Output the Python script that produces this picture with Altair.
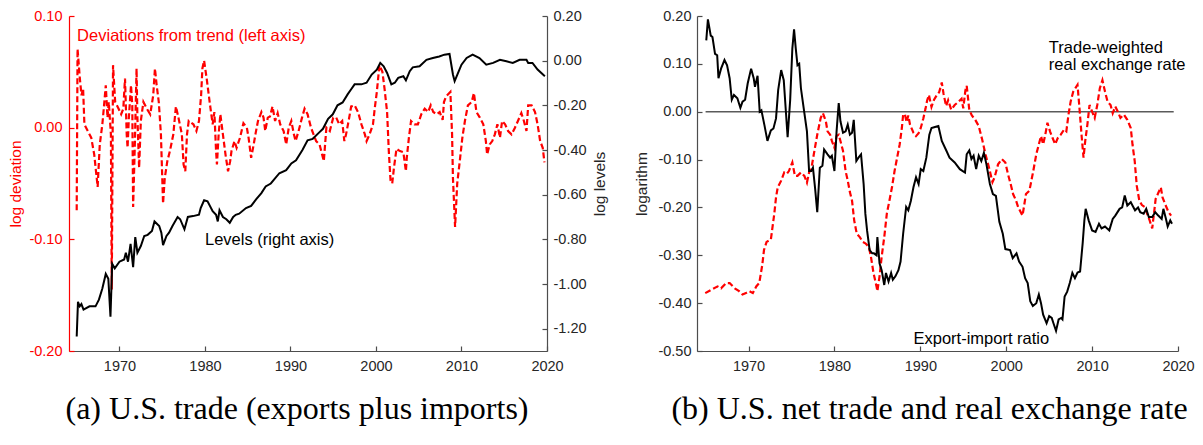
import altair as alt
import pandas as pd

# ---------------- Panel (a): U.S. trade ----------------
LEV_YEARS = [1965.0, 1965.15, 1965.35, 1965.55, 1965.8, 1966.5, 1967.2, 1967.6, 1968.0, 1968.4,
             1968.7, 1968.95, 1969.15, 1969.45, 1970.0, 1970.55, 1970.75, 1971.0, 1971.3, 1971.6,
             1971.85, 1972.1, 1972.5, 1972.9, 1973.3, 1973.8, 1974.1, 1974.65, 1974.9, 1975.1,
             1975.5, 1975.8, 1976.2, 1976.8, 1977.1, 1977.6, 1978.0, 1978.6, 1979.3, 1979.5,
             1979.9, 1980.3, 1980.9, 1981.3, 1981.5, 1981.7, 1982.1, 1982.5, 1982.9, 1983.3,
             1983.6, 1984.0, 1984.8, 1985.4, 1986.0, 1986.6, 1987.1, 1987.7, 1988.7, 1989.5,
             1990.1, 1990.65, 1991.4, 1992.0, 1992.6, 1993.4, 1993.8, 1994.4, 1994.95, 1995.5,
             1996.1, 1996.7, 1997.1, 1997.5, 1998.3, 1998.9, 1999.5, 2000.1, 2000.5, 2000.9,
             2001.3, 2001.8, 2002.2, 2002.6, 2003.2, 2003.5, 2003.95, 2004.3, 2005.1, 2005.9,
             2006.65, 2007.4, 2008.0, 2008.6, 2009.0, 2009.2, 2009.6, 2010.0, 2010.6, 2011.3,
             2012.1, 2012.9, 2013.7, 2014.5, 2015.25, 2016.0, 2016.8, 2017.6, 2017.8, 2018.3,
             2018.9, 2019.75]
LEV_VALUES = [-1.235, -1.08, -1.10, -1.09, -1.115, -1.10, -1.10, -1.07, -1.02, -0.955,
              -0.977, -1.146, -0.91, -0.93, -0.90, -0.89, -0.86, -0.90, -0.82, -0.925,
              -0.79, -0.86, -0.83, -0.785, -0.78, -0.763, -0.72, -0.74, -0.77, -0.826,
              -0.785, -0.77, -0.74, -0.70, -0.71, -0.755, -0.70, -0.696, -0.69, -0.66,
              -0.625, -0.63, -0.674, -0.69, -0.72, -0.67, -0.70, -0.71, -0.726, -0.70,
              -0.69, -0.685, -0.66, -0.65, -0.62, -0.593, -0.563, -0.55, -0.504, -0.49,
              -0.46, -0.446, -0.40, -0.357, -0.35, -0.32, -0.305, -0.26, -0.24, -0.20,
              -0.187, -0.15, -0.128, -0.106, -0.106, -0.099, -0.062, -0.04, -0.01, -0.025,
              -0.055, -0.106, -0.099, -0.077, -0.07, -0.088, -0.047, -0.03, -0.025, 0.004,
              0.012, 0.019, 0.027, 0.03, -0.062, -0.092, -0.055, -0.018, 0.012, 0.027,
              0.012, -0.018, -0.01, 0.004, -0.003, -0.01, 0.004, 0.004, -0.01, -0.01,
              -0.04, -0.07]

DEV_YEARS = [1965.0, 1965.1, 1965.37, 1965.56, 1965.75, 1965.9, 1966.3, 1966.7, 1967.05, 1967.45,
             1967.7, 1968.0, 1968.2, 1968.4, 1968.6, 1968.75, 1969.0, 1969.1, 1969.25, 1969.5,
             1969.9, 1970.2, 1970.45, 1970.65, 1970.85, 1970.95, 1971.1, 1971.35, 1971.5, 1971.6,
             1971.8, 1972.0, 1972.1, 1972.3, 1972.5, 1972.8, 1973.2, 1973.6, 1973.95, 1974.15,
             1974.35, 1974.6, 1974.85, 1975.1, 1975.3, 1975.6, 1975.9, 1976.3, 1976.6, 1976.9,
             1977.3, 1977.5, 1977.7, 1977.9, 1978.1, 1978.65, 1979.0, 1979.3, 1979.55, 1979.7,
             1979.9, 1980.2, 1980.6, 1980.9, 1981.1, 1981.3, 1981.4, 1981.6, 1981.8, 1982.0,
             1982.2, 1982.4, 1982.7, 1982.95, 1983.1, 1983.45, 1983.7, 1984.1, 1984.5, 1984.9,
             1985.1, 1985.4, 1985.7, 1985.9, 1986.2, 1986.6, 1986.85, 1987.05, 1987.35, 1987.6,
             1987.9, 1988.2, 1988.5, 1988.8, 1989.2, 1989.5, 1989.8, 1990.1, 1990.4, 1990.6,
             1990.95, 1991.35, 1991.65, 1992.0, 1992.4, 1993.0, 1993.4, 1993.9, 1994.2, 1994.6,
             1995.0, 1995.35, 1995.7, 1996.05, 1996.3, 1996.5, 1996.8, 1997.1, 1997.5, 1997.9,
             1998.3, 1998.7, 1998.9, 1999.25, 1999.65, 1999.85, 2000.1, 2000.4, 2000.75, 2001.0,
             2001.3, 2001.5, 2001.7, 2001.9, 2002.1, 2002.4, 2002.8, 2003.2, 2003.5, 2003.6,
             2003.85, 2004.1, 2004.5, 2004.9, 2005.3, 2005.7, 2006.1, 2006.4, 2006.7, 2007.1,
             2007.45, 2007.8, 2007.95, 2008.2, 2008.7, 2008.9, 2009.0, 2009.15, 2009.25, 2009.5,
             2009.8, 2010.1, 2010.4, 2010.75, 2011.2, 2011.45, 2011.75, 2012.15, 2012.55, 2012.85,
             2013.0, 2013.3, 2013.6, 2013.9, 2014.2, 2014.5, 2014.75, 2015.1, 2015.45, 2015.85,
             2016.25, 2016.6, 2017.0, 2017.3, 2017.6, 2017.8, 2018.2, 2018.6, 2018.9, 2019.2,
             2019.5, 2019.7]
DEV_VALUES = [-0.074, 0.0705, 0.044, 0.029, 0.035, 0.003, -0.003, -0.009, -0.024, -0.053,
              -0.015, 0.003, 0.02, 0.038, 0.009, 0.023, -0.006, -0.145, 0.056, 0.023,
              0.017, 0.012, 0.017, 0.044, -0.006, -0.018, 0.009, 0.038, 0.02, -0.071,
              -0.015, 0.053, 0.009, -0.036, 0.006, 0.023, 0.017, 0.012, 0.029, 0.053,
              0.038, 0.023, -0.006, -0.068, -0.045, -0.03, -0.021, -0.006, 0.019, 0.009,
              -0.006, -0.033, -0.039, -0.006, 0.006, 0.003, -0.003, 0.006, 0.029, 0.053,
              0.06, 0.044, 0.02, 0.003, 0.014, -0.021, -0.033, -0.006, 0.012, 0.0,
              -0.012, -0.024, -0.039, -0.03, -0.021, -0.012, -0.018, -0.009, 0.004, 0.0,
              -0.009, -0.027, -0.015, -0.006, 0.006, 0.014, 0.009, -0.003, 0.009, 0.01,
              0.019, 0.006, 0.013, 0.003, -0.003, -0.015, 0.0, 0.006, -0.006, -0.012,
              -0.003, 0.009, 0.017, 0.012, 0.0, -0.012, -0.015, -0.03, 0.0, -0.003,
              0.009, 0.009, 0.003, 0.006, -0.012, -0.006, 0.006, 0.019, 0.02, 0.014,
              0.003, -0.006, -0.012, -0.006, 0.003, 0.017, 0.032, 0.056, 0.05, 0.035,
              0.014, -0.021, -0.047, -0.05, -0.036, -0.019, -0.021, -0.022, -0.039, -0.027,
              -0.009, 0.006, 0.003, 0.003, 0.012, 0.017, 0.014, 0.02, 0.014, 0.012,
              0.014, 0.007, 0.023, 0.028, 0.032, -0.006, -0.045, -0.071, -0.089, -0.05,
              -0.03, -0.009, 0.006, 0.02, 0.023, 0.031, 0.014, 0.009, 0.003, -0.012,
              -0.024, -0.015, -0.012, -0.006, 0.003, -0.009, 0.006, 0.003, -0.003, -0.006,
              0.0, 0.006, 0.013, 0.006, -0.003, 0.02, 0.02, 0.014, 0.003, -0.012,
              -0.018, -0.031]

# ---------------- Panel (b): net trade and real exchange rate ----------------
RATIO_YEARS = [1965.08, 1965.27, 1965.6, 1965.8, 1966.1, 1966.35, 1966.5, 1966.8, 1967.2, 1967.5,
               1967.8, 1968.05, 1968.3, 1968.7, 1969.05, 1969.3, 1969.6, 1969.9, 1970.3, 1970.6,
               1970.75, 1971.05, 1971.3, 1971.5, 1971.85, 1972.2, 1972.6, 1972.9, 1973.2, 1973.45,
               1973.8, 1974.1, 1974.35, 1974.55, 1974.85, 1975.1, 1975.3, 1975.5, 1975.7, 1975.9,
               1976.1, 1976.4, 1976.8, 1977.05, 1977.3, 1977.5, 1977.75, 1978.0, 1978.3, 1978.6,
               1978.8, 1979.2, 1979.5, 1979.7, 1980.0, 1980.25, 1980.5, 1980.7, 1981.0, 1981.3,
               1981.55, 1981.8, 1982.05, 1982.25, 1982.55, 1982.8, 1983.1, 1983.4, 1983.6, 1983.8,
               1984.1, 1984.4, 1984.6, 1984.9, 1985.0, 1985.25, 1985.5, 1985.8, 1986.0, 1986.3,
               1986.6, 1986.8, 1987.1, 1987.45, 1987.7, 1988.0, 1988.35, 1988.6, 1988.9, 1989.2,
               1989.5, 1989.8, 1990.05, 1990.35, 1990.7, 1991.05, 1991.3, 1991.7, 1992.1, 1992.5,
               1993.05, 1993.4, 1994.0, 1994.6, 1995.2, 1995.4, 1995.7, 1995.95, 1996.2, 1996.5,
               1996.8, 1997.1, 1997.4, 1997.7, 1998.1, 1998.45, 1998.8, 1999.2, 1999.6, 1999.9,
               2000.45, 2000.76, 2001.2, 2001.5, 2001.9, 2002.2, 2002.5, 2002.8, 2003.1, 2003.5,
               2003.8, 2004.05, 2004.3, 2004.7, 2005.0, 2005.3, 2005.5, 2005.8, 2006.1, 2006.4,
               2006.55, 2006.8, 2007.1, 2007.4, 2007.7, 2008.0, 2008.3, 2008.6, 2008.9, 2009.1,
               2009.25, 2009.6, 2010.0, 2010.4, 2010.8, 2011.1, 2011.5, 2012.0, 2012.4, 2012.7,
               2013.2, 2013.5, 2013.8, 2014.1, 2014.5, 2014.7, 2015.0, 2015.35, 2015.6, 2016.0,
               2016.3, 2016.6, 2017.0, 2017.35, 2017.7, 2018.1, 2018.3, 2018.6, 2018.8, 2019.1,
               2019.3]
RATIO_VALUES = [0.149, 0.193, 0.159, 0.156, 0.121, 0.118, 0.07, 0.09, 0.108, 0.097,
                0.07, 0.025, 0.035, 0.028, 0.008, 0.021, 0.025, 0.059, 0.09, 0.07,
                0.052, 0.075, 0.0, 0.003, -0.028, -0.061, -0.039, -0.035, -0.014, 0.045,
                0.087, 0.066, 0.0, -0.053, 0.025, 0.132, 0.172, 0.132, 0.097, 0.1,
                0.049, 0.01, -0.041, -0.124, -0.124, -0.117, -0.16, -0.21, -0.117, -0.113,
                -0.079, -0.089, -0.096, -0.092, -0.124, -0.041, 0.018, -0.02, -0.044, -0.041,
                -0.027, -0.048, -0.044, -0.017, -0.103, -0.096, -0.089, -0.151, -0.213, -0.248,
                -0.289, -0.296, -0.296, -0.30, -0.262, -0.317, -0.331, -0.362, -0.337, -0.355,
                -0.337, -0.351, -0.344, -0.331, -0.313, -0.255, -0.199, -0.206, -0.186, -0.158,
                -0.137, -0.151, -0.12, -0.124, -0.096, -0.048, -0.034, -0.032, -0.03, -0.061,
                -0.082, -0.096, -0.106, -0.12, -0.127, -0.089, -0.081, -0.099, -0.092, -0.12,
                -0.092, -0.103, -0.086, -0.11, -0.151, -0.172, -0.176, -0.23, -0.255, -0.287,
                -0.289, -0.306, -0.296, -0.313, -0.324, -0.348, -0.358, -0.396, -0.406, -0.40,
                -0.382, -0.40, -0.424, -0.442, -0.427, -0.431, -0.442, -0.458, -0.434, -0.431,
                -0.434, -0.386, -0.376, -0.358, -0.337, -0.348, -0.336, -0.334, -0.275, -0.227,
                -0.203, -0.227, -0.248, -0.251, -0.234, -0.244, -0.24, -0.248, -0.224, -0.217,
                -0.203, -0.20, -0.175, -0.196, -0.189, -0.196, -0.206, -0.20, -0.21, -0.213,
                -0.203, -0.22, -0.22, -0.21, -0.217, -0.224, -0.203, -0.224, -0.24, -0.227,
                -0.234]

RER_YEARS = [1964.96, 1965.66, 1966.4, 1966.8, 1967.4, 1967.8, 1968.4, 1968.9, 1969.3, 1969.7,
             1970.1, 1970.5, 1970.9, 1971.25, 1971.6, 1971.8, 1972.1, 1972.6, 1973.0, 1973.2,
             1973.4, 1973.8, 1974.15, 1974.45, 1974.7, 1975.1, 1975.4, 1975.7, 1976.1, 1976.5,
             1976.8, 1977.05, 1977.3, 1977.6, 1978.0, 1978.4, 1978.66, 1979.0, 1979.2, 1979.5,
             1979.7, 1980.0, 1980.25, 1980.5, 1980.8, 1981.0, 1981.3, 1981.55, 1981.8, 1982.05,
             1982.3, 1982.6, 1982.95, 1983.3, 1983.6, 1984.0, 1984.25, 1984.55, 1984.9, 1985.0,
             1985.25, 1985.5, 1985.8, 1986.1, 1986.4, 1986.7, 1987.0, 1987.3, 1987.6, 1987.85,
             1988.0, 1988.2, 1988.4, 1988.6, 1988.8, 1989.2, 1989.5, 1989.8, 1990.05, 1990.35,
             1990.6, 1990.8, 1991.0, 1991.3, 1991.6, 1991.9, 1992.2, 1992.5, 1992.7, 1993.0,
             1993.24, 1993.6, 1994.0, 1994.4, 1994.8, 1995.0, 1995.25, 1995.4, 1995.7, 1996.0,
             1996.4, 1996.8, 1997.2, 1997.6, 1998.0, 1998.4, 1998.65, 1999.05, 1999.5, 1999.9,
             2000.2, 2000.5, 2000.8, 2001.15, 2001.4, 2001.9, 2002.3, 2002.7, 2003.15, 2003.5,
             2003.8, 2004.05, 2004.3, 2004.55, 2004.8, 2005.1, 2005.4, 2005.7, 2006.0, 2006.35,
             2006.75, 2007.0, 2007.25, 2007.5, 2007.8, 2008.3, 2008.5, 2008.8, 2009.0, 2009.2,
             2009.45, 2009.7, 2010.0, 2010.3, 2010.6, 2010.9, 2011.2, 2011.5, 2011.8, 2012.15,
             2012.4, 2012.7, 2013.0, 2013.3, 2013.7, 2014.1, 2014.5, 2014.7, 2014.96, 2015.2,
             2015.5, 2015.8, 2016.2, 2016.4, 2016.7, 2017.0, 2017.2, 2017.4, 2017.7, 2018.0,
             2018.2, 2018.5, 2018.9, 2019.2]
RER_VALUES = [-0.379, -0.372, -0.365, -0.369, -0.358, -0.358, -0.369, -0.375, -0.382, -0.379,
              -0.375, -0.379, -0.365, -0.358, -0.32, -0.289, -0.272, -0.267, -0.213, -0.179,
              -0.158, -0.144, -0.127, -0.13, -0.124, -0.106, -0.134, -0.134, -0.127, -0.134,
              -0.148, -0.127, -0.12, -0.089, -0.048, -0.013, -0.003, -0.02, -0.041, -0.048,
              -0.061, -0.075, -0.051, -0.048, -0.068, -0.082, -0.124, -0.144, -0.168, -0.186,
              -0.227, -0.255, -0.262, -0.272, -0.275, -0.282, -0.303, -0.337, -0.365, -0.375,
              -0.344, -0.303, -0.262, -0.213, -0.186, -0.158, -0.124, -0.096, -0.068, -0.034,
              -0.006, -0.005, -0.022, -0.008, -0.027, -0.044, -0.051, -0.045, -0.034, -0.014,
              0.006, 0.024, 0.035, 0.01, 0.025, 0.034, 0.041, 0.061, 0.038, 0.012,
              0.024, 0.004, 0.014, 0.02, 0.027, 0.007, 0.045, 0.054, 0.004, -0.008,
              -0.017, -0.03, -0.058, -0.09, -0.117, -0.147, -0.137, -0.11, -0.099, -0.106,
              -0.13, -0.15, -0.172, -0.186, -0.20, -0.217, -0.172, -0.165, -0.124, -0.089,
              -0.068, -0.051, -0.068, -0.048, -0.023, -0.041, -0.055, -0.068, -0.055, -0.048,
              -0.037, -0.041, -0.006, 0.021, 0.042, 0.056, 0.014, -0.055, -0.096, -0.061,
              -0.027, 0.014, 0.0, -0.013, 0.014, 0.049, 0.066, 0.042, 0.021, 0.014,
              -0.003, 0.011, 0.0, -0.013, -0.006, -0.017, -0.034, -0.068, -0.103, -0.155,
              -0.186, -0.195, -0.20, -0.213, -0.227, -0.244, -0.213, -0.182, -0.17, -0.158,
              -0.179, -0.193, -0.21, -0.217]

ZERO_SPAN = [1965.0, 2019.5]

# Tick values and annotation texts (positions in data units)
X_TICKS = [1970, 1980, 1990, 2000, 2010, 2020]
DEV_TICKS = [-0.2, -0.1, 0.0, 0.1]
LEV_TICKS = [-1.2, -1.0, -0.8, -0.6, -0.4, -0.2, 0.0, 0.2]
B_TICKS = [-0.5, -0.4, -0.3, -0.2, -0.1, 0.0, 0.1, 0.2]

ANN_A_RED = {"text": ["Deviations from trend (left axis)"], "year": [1965.05], "value": [0.082]}
ANN_A_BLACK = {"text": ["Levels (right axis)"], "year": [1980.0], "value": [-0.805]}
ANN_B = {"text": ["Trade-weighted", "real exchange rate", "Export-import ratio"],
         "year": [2004.96, 2004.96, 1989.2], "value": [0.1325, 0.097, -0.474]}

CAPTION_A = "(a) U.S. trade (exports plus imports)"
CAPTION_B = "(b) U.S. net trade and real exchange rate"

# ---------------- styling ----------------
RED = "#ff0000"
DARK = "#262626"
AXIS_GRAY = "#4d4d4d"
FONT = "Liberation Sans"
SERIF = "Liberation Serif"
LABEL_FS = 14.5
TITLE_FS = 15.5
ANN_FS = 16.5
WA, HA = 478, 335
WB, HB = 481, 335
DASH = [6, 3]
LBL_EXPR = "replace(format(datum.value, '.2f'), '\u2212', '-')"

dev_df = pd.DataFrame({"year": DEV_YEARS, "value": DEV_VALUES})
lev_df = pd.DataFrame({"year": LEV_YEARS, "value": LEV_VALUES})
ratio_df = pd.DataFrame({"year": RATIO_YEARS, "value": RATIO_VALUES})
rer_df = pd.DataFrame({"year": RER_YEARS, "value": RER_VALUES})
zero_df = pd.DataFrame({"x": [ZERO_SPAN[0]], "x2": [ZERO_SPAN[1]], "y": [0.0]})

xs_a = alt.Scale(domain=[1964.1, 2020], nice=False, zero=False)
xs_b = alt.Scale(domain=[1964, 2020], nice=False, zero=False)
dev_s = alt.Scale(domain=[-0.2, 0.1], nice=False, zero=False)
lev_s = alt.Scale(domain=[-1.3, 0.2], nice=False, zero=False)
b_s = alt.Scale(domain=[-0.5, 0.2], nice=False, zero=False)


def x_label_axis():
    return alt.Axis(orient="bottom", values=X_TICKS, format="d", ticks=False, labelFlush=False,
                    domainColor=AXIS_GRAY, domainWidth=1.2, labelColor=DARK, labelPadding=8)


def x_tick_axis(h):
    return alt.Axis(orient="top", offset=-h, values=X_TICKS, labels=False, domain=False,
                    ticks=True, tickSize=5, tickColor=AXIS_GRAY, tickWidth=1.2)


# ---- panel (a) layers ----
red_line = alt.Chart(dev_df).mark_line(color=RED, strokeWidth=2.2, strokeDash=DASH).encode(
    x=alt.X("year:Q", scale=xs_a, axis=x_label_axis(), title=None),
    y=alt.Y("value:Q", scale=dev_s, title="log deviation",
            axis=alt.Axis(orient="left", values=DEV_TICKS, labelExpr=LBL_EXPR, ticks=False,
                          domainColor=RED, domainWidth=1.2, labelColor=RED, titleColor=RED,
                          labelPadding=7, titlePadding=5)),
)
red_ticks = alt.Chart(dev_df).mark_line(opacity=0).encode(
    x=alt.X("year:Q", scale=xs_a, axis=x_tick_axis(HA), title=None),
    y=alt.Y("value:Q", scale=dev_s, title=None,
            axis=alt.Axis(orient="right", offset=-WA, values=DEV_TICKS, labels=False,
                          domain=False, tickSize=5, tickColor=RED, tickWidth=1.2)),
)
black_line = alt.Chart(lev_df).mark_line(color="black", strokeWidth=2).encode(
    x=alt.X("year:Q", scale=xs_a, axis=None),
    y=alt.Y("value:Q", scale=lev_s, title="log levels",
            axis=alt.Axis(orient="right", values=LEV_TICKS, labelExpr=LBL_EXPR, ticks=False,
                          domainColor=AXIS_GRAY, domainWidth=1.2, labelColor=DARK,
                          titleColor=DARK, labelPadding=6, titlePadding=6, titleAngle=270,
                          titleBaseline="top")),
)
black_ticks = alt.Chart(lev_df).mark_line(opacity=0).encode(
    x=alt.X("year:Q", scale=xs_a, axis=None),
    y=alt.Y("value:Q", scale=lev_s, title=None,
            axis=alt.Axis(orient="left", offset=-WA, values=LEV_TICKS, labels=False,
                          domain=False, tickSize=5, tickColor=AXIS_GRAY, tickWidth=1.2)),
)
ann_a1 = alt.Chart(pd.DataFrame(ANN_A_RED)).mark_text(
    align="left", baseline="middle", color=RED, font=FONT, fontSize=ANN_FS).encode(
    x=alt.X("year:Q", scale=xs_a, axis=None),
    y=alt.Y("value:Q", scale=dev_s, axis=None),
    text="text:N",
)
ann_a2 = alt.Chart(pd.DataFrame(ANN_A_BLACK)).mark_text(
    align="left", baseline="middle", color="black", font=FONT, fontSize=ANN_FS).encode(
    x=alt.X("year:Q", scale=xs_a, axis=None),
    y=alt.Y("value:Q", scale=lev_s, axis=None),
    text="text:N",
)

panel_a = alt.layer(red_line, red_ticks, black_line, black_ticks, ann_a1, ann_a2).resolve_scale(
    y="independent").resolve_axis(x="independent", y="independent").properties(
    width=WA, height=HA,
    title=alt.TitleParams(CAPTION_A, orient="bottom", anchor="middle", frame="group",
                          font=SERIF, fontSize=32, fontWeight="normal", color="black",
                          offset=21, dx=-11),
)

# ---- panel (b) layers ----
rer_line = alt.Chart(rer_df).mark_line(color=RED, strokeWidth=2.2, strokeDash=DASH).encode(
    x=alt.X("year:Q", scale=xs_b, axis=x_label_axis(), title=None),
    y=alt.Y("value:Q", scale=b_s, title="logarithm",
            axis=alt.Axis(orient="left", values=B_TICKS, labelExpr=LBL_EXPR, ticks=False,
                          domainColor=AXIS_GRAY, domainWidth=1.2, labelColor=DARK,
                          titleColor=DARK, labelPadding=6, titlePadding=8)),
)
ratio_line = alt.Chart(ratio_df).mark_line(color="black", strokeWidth=2).encode(
    x=alt.X("year:Q", scale=xs_b, axis=None),
    y=alt.Y("value:Q", scale=b_s, axis=None),
)
zero_rule = alt.Chart(zero_df).mark_rule(color="#5a5a5a", strokeWidth=1.5).encode(
    x=alt.X("x:Q", scale=xs_b, axis=None),
    x2="x2:Q",
    y=alt.Y("y:Q", scale=b_s, axis=None),
)
b_ticks = alt.Chart(rer_df).mark_line(opacity=0).encode(
    x=alt.X("year:Q", scale=xs_b, axis=x_tick_axis(HB), title=None),
    y=alt.Y("value:Q", scale=b_s, title=None,
            axis=alt.Axis(orient="right", offset=-WB, values=B_TICKS, labels=False,
                          domain=False, tickSize=5, tickColor=AXIS_GRAY, tickWidth=1.2)),
)
ann_b = alt.Chart(pd.DataFrame(ANN_B)).mark_text(
    align="left", baseline="middle", color="black", font=FONT, fontSize=ANN_FS).encode(
    x=alt.X("year:Q", scale=xs_b, axis=None),
    y=alt.Y("value:Q", scale=b_s, axis=None),
    text="text:N",
)

panel_b = alt.layer(zero_rule, rer_line, ratio_line, b_ticks, ann_b).resolve_axis(
    x="independent", y="independent").properties(
    width=WB, height=HB,
    title=alt.TitleParams(CAPTION_B, orient="bottom", anchor="middle", frame="group",
                          font=SERIF, fontSize=32, fontWeight="normal", color="black",
                          offset=21, dx=-8),
)

chart = alt.hconcat(panel_a, panel_b, spacing=26).properties(
    padding={"left": 0, "top": 0, "right": 0, "bottom": 4},
    background="white",
).configure_view(stroke=None).configure_axis(
    grid=False, labelFont=FONT, labelFontSize=LABEL_FS, titleFont=FONT,
    titleFontSize=TITLE_FS, titleFontWeight="normal",
)

chart.save("out.html", embed_options={"renderer": "svg", "actions": False})
